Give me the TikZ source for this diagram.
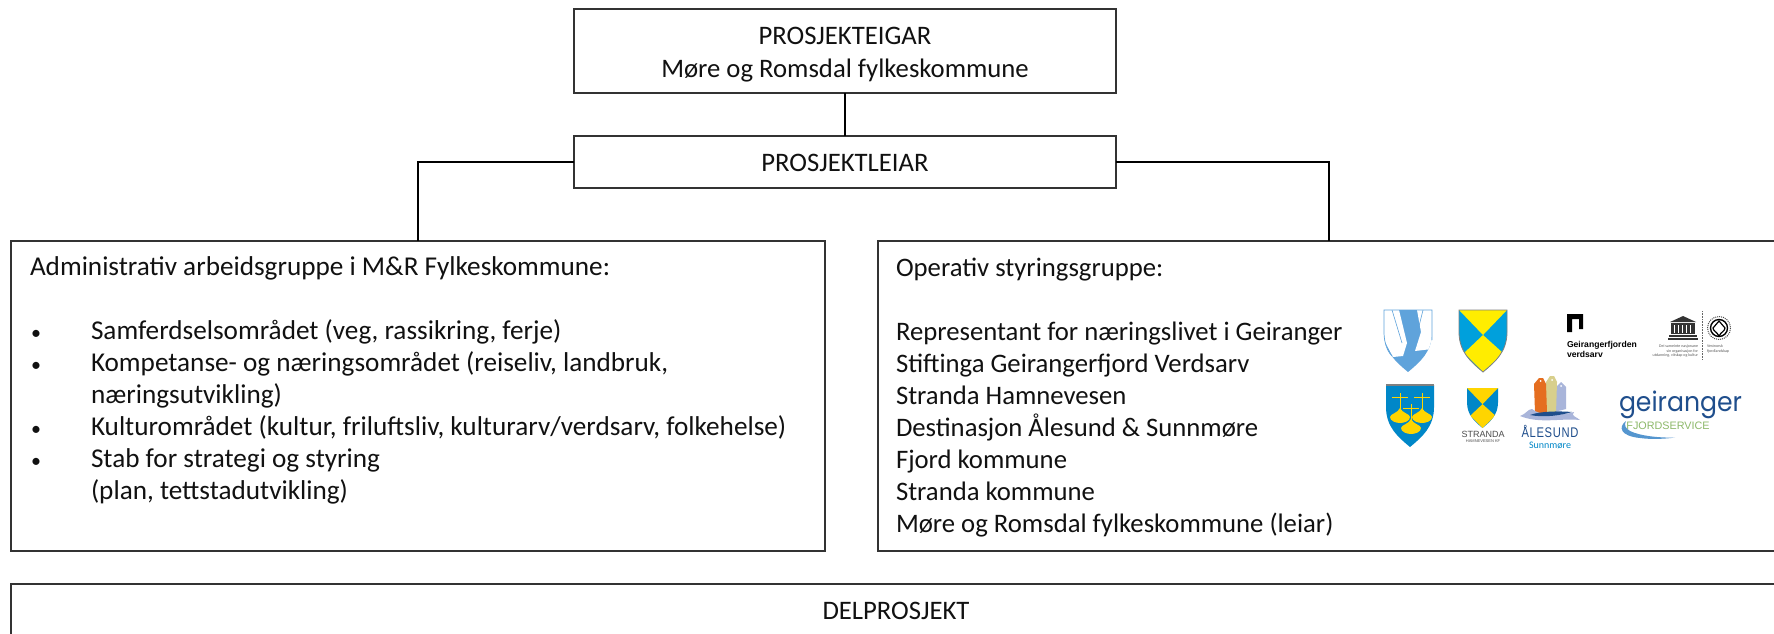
\documentclass[tikz,border=0pt]{standalone}
\usepackage{fontspec}
\setmainfont{Carlito}
\newfontfamily\logofont{Poppins}
\newfontfamily\headfont{Liberation Sans}
\definecolor{ink}{HTML}{111111}
\definecolor{frame}{HTML}{333333}
\definecolor{arrowblue}{HTML}{5FA3DB}
\definecolor{skyblue}{HTML}{00A0DC}
\definecolor{shieldblue}{HTML}{0087C8}
\definecolor{shieldyellow}{HTML}{FFED00}
\definecolor{bellyellow}{HTML}{FFD500}
\definecolor{navy}{HTML}{1F4E8C}
\definecolor{fjordgreen}{HTML}{8DB96A}
\definecolor{boatorange}{HTML}{E56E20}
\definecolor{boatkhaki}{HTML}{D8CF8C}
\definecolor{boatblue}{HTML}{A9B5DA}
\tikzset{
  x=1pt,y=-1pt,
  box/.style={draw=frame,line width=1.4pt,fill=white,rectangle,inner sep=0pt,outer sep=0pt},
  link/.style={draw=black,line width=2.2pt},
  lab/.style={text=ink,inner sep=0pt,outer sep=0pt,font=\fontsize{26.7}{32}\selectfont},
  line/.style={lab,anchor=base west},
  listline/.style={line,font=\fontsize{27.2}{32}\selectfont},
  dot/.style={line,font=\fontsize{20}{32}\selectfont},
  mid/.style={lab,anchor=base},
  tiny/.style={text=#1,inner sep=0pt,outer sep=0pt,anchor=base},
}
\newcommand{\shieldshape}{(0,0) -- (48,0) -- (48,22) .. controls (48,42) and (36,52) .. (24,62) .. controls (12,52) and (0,42) .. (0,22) -- cycle}
\newcommand{\fs}[1]{\fontsize{#1}{#1}\selectfont}
\begin{document}
\begin{tikzpicture}
\useasboundingbox (0,0) rectangle (1774,633);
\clip (0,0) rectangle (1774,633);
% boxes
\node[box,minimum width=542pt,minimum height=84pt] (top) at (845,51) {};
\node[box,minimum width=542pt,minimum height=52pt] (lead) at (845,162) {};
\node[box,minimum width=814pt,minimum height=310pt] (adm) at (418,396) {};
\node[box,minimum width=900pt,minimum height=310pt] (ope) at (1328,396) {};
\node[box,minimum width=1768pt,minimum height=70pt] (del) at (895,619) {};
\coordinate (admin) at (418,241);
\coordinate (opein) at (1329,241);
% connectors
\draw[link] (top.south) -- (lead.north);
\draw[link] (lead.west) -| (admin);
\draw[link] (lead.east) -| (opein);
% centred text
\node[mid] (t1) at (845,44) {PROSJEKTEIGAR};
\node[mid] (t2) at (845,77) {Møre og Romsdal fylkeskommune};
\node[mid] (t3) at (845,171) {PROSJEKTLEIAR};
\node[mid] (t4) at (896,619) {DELPROSJEKT};
% left list
\node[listline] (a0) at (30,275.5) {Administrativ arbeidsgruppe i M\&R Fylkeskommune:};
\node[dot] (b1) at (31,339) {•};
\node[listline] (a1) at (91,339) {Samferdselsområdet (veg, rassikring, ferje)};
\node[dot] (b2) at (31,371) {•};
\node[listline] (a2) at (91,371) {Kompetanse- og næringsområdet (reiseliv, landbruk,};
\node[listline] (a3) at (91,403) {næringsutvikling)};
\node[dot] (b3) at (31,435) {•};
\node[listline] (a4) at (91,435) {Kulturområdet (kultur, friluftsliv, kulturarv/verdsarv, folkehelse)};
\node[dot] (b4) at (31,467) {•};
\node[listline] (a5) at (91,467) {Stab for strategi og styring};
\node[listline] (a6) at (91,499) {(plan, tettstadutvikling)};
% right list
\node[line] (o0) at (896,276) {Operativ styringsgruppe:};
\node[line] (o1) at (896,340) {Representant for næringslivet i Geiranger};
\node[line] (o2) at (896,372) {Stiftinga Geirangerfjord Verdsarv};
\node[line] (o3) at (896,404) {Stranda Hamnevesen};
\node[line] (o4) at (896,436) {Destinasjon Ålesund \& Sunnmøre};
\node[line] (o5) at (896,468) {Fjord kommune};
\node[line] (o6) at (896,500) {Stranda kommune};
\node[line] (o7) at (896,532) {Møre og Romsdal fylkeskommune (leiar)};
% logo: arrow shield
\begin{scope}[shift={(1384,310)}]
  \begin{scope}
    \clip \shieldshape;
    \fill[arrowblue] (0,0) rectangle (48,62);
    \fill[white] (0,0) -- (15,0) -- (23,33) -- (19,46) -- (9,47) -- (0,30) -- cycle;
    \fill[white] (33,0) -- (48,0) -- (48,39) -- (31,41) -- (37,22) -- cycle;
    \draw[arrowblue,line width=.6pt] (8,0) -- (18,33);
    \draw[arrowblue,line width=.6pt] (39,0) -- (34,20);
  \end{scope}
  \draw[arrowblue,line width=.7pt] (48,30) -- (48,0) -- (0,0) -- (0,22) .. controls (0,30) and (2,40) .. (8,46);
\end{scope}
% logo: yellow and blue shield
\begin{scope}[shift={(1459,310)}]
  \fill[skyblue] \shieldshape;
  \begin{scope}
    \clip \shieldshape;
    \fill[shieldyellow] (0,0) -- (48,0) -- (24,25) -- cycle;
    \fill[shieldyellow] (24,25) -- (44,43) -- (24,62) -- (5,43) -- cycle;
  \end{scope}
  \draw[gray,line width=.8pt] \shieldshape;
\end{scope}
% logo: three bells shield
\begin{scope}[shift={(1386,385)}]
  \fill[shieldblue] \shieldshape;
  \draw[gray,line width=1.2pt] (0,0) -- (48,0);
  \foreach \cx/\cy in {14/29,36/29,25/40}{
    \draw[bellyellow,line width=.8pt] (\cx,\cy-5-16) -- (\cx,\cy-4);
    \draw[bellyellow,line width=.8pt] (\cx-8,\cy-5-12) -- (\cx+8,\cy-5-12);
    \fill[bellyellow] (\cx,\cy-6) .. controls (\cx+2,\cy-1) and (\cx+10,\cy) .. (\cx+10,\cy+3) .. controls (\cx+10,\cy+7) and (\cx+4,\cy+9) .. (\cx,\cy+9) .. controls (\cx-4,\cy+9) and (\cx-10,\cy+7) .. (\cx-10,\cy+3) .. controls (\cx-10,\cy) and (\cx-2,\cy-1) .. cycle;
  }
\end{scope}
% logo: Stranda Hamnevesen
\begin{scope}[shift={(1467,388)},xscale=0.646,yscale=0.645]
  \fill[shieldblue] \shieldshape;
  \begin{scope}
    \clip \shieldshape;
    \fill[bellyellow] (0,0) -- (48,0) -- (24,25) -- cycle;
    \fill[bellyellow] (24,25) -- (44,43) -- (24,62) -- (5,43) -- cycle;
  \end{scope}
\end{scope}
\node[tiny=black!70] (s1) at (1483,437) {\headfont\fs{9}STRANDA};
\node[tiny=black!70] (s2) at (1483,442) {\headfont\fs{4}HAMNEVESEN KF};
% logo: Alesund
\fill[boatblue] (1554,412) -- (1556,387) -- (1561,382) -- (1566,387) -- (1566,409) -- cycle;
\fill[boatkhaki] (1546,413) -- (1546,382) -- (1550,376) -- (1554,376) -- (1557,382) -- (1556,413) -- cycle;
\fill[boatorange] (1535,413) -- (1534,384) -- (1539,378) -- (1543,378) -- (1546,384) -- (1547,413) -- cycle;
\fill[white] (1540.5,381) circle (1pt) (1552,380) circle (1pt) (1561,386) circle (1pt);
\fill[boatblue] (1520,416) .. controls (1526,414) and (1528,409) .. (1532,409) .. controls (1540,416) and (1560,416) .. (1574,412) .. controls (1570,416) and (1577,417) .. (1580,420) .. controls (1560,418) and (1540,424) .. (1520,416) -- cycle;
\fill[navy] (1530,415) .. controls (1540,411) and (1560,411) .. (1572,412) .. controls (1562,415) and (1545,418) .. (1530,415) -- cycle;
\node[tiny=navy,xscale=.8] (al1) at (1550,437) {\headfont\fs{14}\addfontfeature{LetterSpace=6}ÅLESUND};
\node[tiny=shieldblue] (al2) at (1550,448) {\fs{10}Sunnmøre};
% logo: Geirangerfjorden verdsarv
\fill[black] (1567,314) -- (1583,314) -- (1583,329) -- (1579,329) -- (1579,319) -- (1572,319) -- (1572,332) -- (1567,332) -- cycle;
\node[tiny=black,anchor=base west] (g1) at (1567,347) {\headfont\bfseries\fs{8.6}Geirangerfjorden};
\node[tiny=black,anchor=base west] (g2) at (1567,357) {\headfont\bfseries\fs{8.6}verdsarv};
% logo: Unesco
\fill[black!80] (1683,316) -- (1696,322) -- (1670,322) -- cycle;
\fill[black!80] (1671,323) rectangle (1695,334);
\foreach \px in {1674,1678,1682,1686,1690}{\fill[white] (\px,325) rectangle (\px+1,333);}
\fill[black!80] (1669,335) rectangle (1697,336.5);
\fill[black!80] (1668,338) rectangle (1698,340);
\node[tiny=black!65,anchor=base east] (u1) at (1698,347) {\fs{4}Dei sameinte nasjonane};
\node[tiny=black!65,anchor=base east] (u2) at (1698,352) {\fs{4}sin organisasjon for};
\node[tiny=black!65,anchor=base east] (u3) at (1698,356) {\fs{4}utdanning, vitskap og kultur};
\draw[black!60,line width=.6pt,densely dotted] (1702,311) -- (1702,360);
\draw[black!70,line width=1pt,densely dotted] (1719,328) circle (11.5);
\draw[black,line width=1.4pt] (1719,328) circle (8.5);
\draw[black,line width=1.2pt] (1719,321) -- (1725,328) .. controls (1725,331) and (1721,332) .. (1719,336) .. controls (1717,332) and (1713,331) .. (1713,328) -- cycle;
\node[tiny=black!65,anchor=base west] (u4) at (1707,347) {\fs{4}Vestnorsk};
\node[tiny=black!65,anchor=base west] (u5) at (1707,352) {\fs{4}fjordlandskap};
% logo: geiranger fjordservice
\node[tiny=navy,xscale=.93] (fj1) at (1680.5,411) {\logofont\fs{27}geiranger};
\node[tiny=fjordgreen] (fj2) at (1668,429) {\headfont\fs{10.8}FJORDSERVICE};
\fill[arrowblue!85!navy] (1626,421) .. controls (1618,427) and (1620,436) .. (1640,438) .. controls (1650,439.5) and (1665,439) .. (1675,437.5) .. controls (1660,438) and (1640,436) .. (1630,431) .. controls (1625,428) and (1624,425) .. (1626,421) -- cycle;
\end{tikzpicture}
\end{document}
